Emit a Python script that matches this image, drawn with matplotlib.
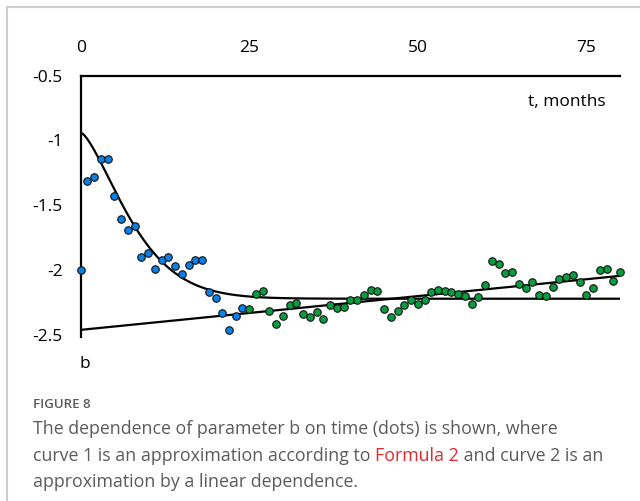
import numpy as np
import matplotlib
matplotlib.use("Agg")
import matplotlib.pyplot as plt
from matplotlib.lines import Line2D

plt.rcParams['font.family'] = ['Open Sans', 'DejaVu Sans']

# Monthly values of parameter b
t_blue = list(range(0, 25))
b_blue = [-2.00, -1.315, -1.28, -1.14, -1.14, -1.43, -1.605, -1.69, -1.66,
          -1.90, -1.865, -1.99, -1.92, -1.90, -1.97, -2.03, -1.96, -1.925,
          -1.925, -2.17, -2.215, -2.33, -2.46, -2.35, -2.295]

t_green = list(range(25, 81))
b_green = [-2.30, -2.18, -2.16, -2.315, -2.415, -2.35, -2.27, -2.256, -2.34,
           -2.36, -2.32, -2.38, -2.27, -2.29, -2.28, -2.23, -2.23, -2.19,
           -2.15, -2.16, -2.30, -2.36, -2.315, -2.27, -2.23, -2.26, -2.23,
           -2.17, -2.15, -2.16, -2.17, -2.18, -2.20, -2.26, -2.205, -2.115,
           -1.93, -1.955, -2.02, -2.015, -2.11, -2.14, -2.095, -2.19, -2.20,
           -2.13, -2.067, -2.055, -2.04, -2.09, -2.19, -2.14, -2.00, -1.99,
           -2.08, -2.015]

x_ticks = [0, 25, 50, 75]
x_tick_labels = ["0", "25", "50", "75"]
y_ticks = [-0.5, -1.0, -1.5, -2.0, -2.5]
y_tick_labels = ["-0.5", "-1", "-1.5", "-2", "-2.5"]

# Curve 1 (relaxation to a plateau) and curve 2 (linear trend) parameters
b_start, b_plateau, tau, power = -0.94, -2.22, 9.1, 1.45
lin_intercept, lin_slope = -2.46, 0.0052

W, H = 640, 501
fig = plt.figure(figsize=(W / 100, H / 100), dpi=100)

def fx(px):
    return px / W

def fy(py):
    return 1 - py / H

ax_left, ax_right, ax_top, ax_bottom = 80.7, 620.0, 75.5, 337.0
ax = fig.add_axes([fx(ax_left), fy(ax_bottom), (ax_right - ax_left) / W,
                   (ax_bottom - ax_top) / H])
ax.set_xlim(0, 80)
ax.set_ylim(-2.515, -0.5)

t_fit = np.linspace(0, 80, 400)
curve1 = b_plateau + (b_start - b_plateau) * np.exp(-(t_fit / tau) ** power)
curve2 = lin_intercept + lin_slope * t_fit
ax.plot(t_fit, curve1, color="black", lw=1.6, zorder=2, solid_capstyle="butt")
ax.plot(t_fit, curve2, color="black", lw=1.6, zorder=2, solid_capstyle="butt")

ax.plot(t_blue, b_blue, "o", ms=5.4, mfc="#0a7fe6", mec="#111111", mew=0.8,
        zorder=3, clip_on=False)
ax.plot(t_green, b_green, "o", ms=5.4, mfc="#0b9c40", mec="#111111", mew=0.8,
        zorder=3, clip_on=False)

for side in ("right", "bottom"):
    ax.spines[side].set_visible(False)
for side in ("top", "left"):
    ax.spines[side].set_linewidth(1.6)
    ax.spines[side].set_color("black")

ax.xaxis.tick_top()
ax.set_xticks(x_ticks)
ax.set_xticklabels(x_tick_labels)
ax.set_yticks(y_ticks)
ax.set_yticklabels(y_tick_labels)
ax.tick_params(axis="x", length=0, pad=14, labelsize=12.5, labelcolor="black")
ax.tick_params(axis="y", length=0, pad=13, labelsize=12.5, labelcolor="black")

fig.text(fx(567), fy(102), "t, months", ha="center", va="center", fontsize=12.5)
fig.text(fx(85), fy(364), "b", ha="center", va="center", fontsize=12.5)

# Light frame around the figure panel
fig.add_artist(Line2D([fx(6.5), fx(6.5)], [fy(7), 0], color="#cfcfcf", lw=1.5,
                      transform=fig.transFigure))
fig.add_artist(Line2D([fx(6.5), 1], [fy(7), fy(7)], color="#cfcfcf", lw=1.5,
                      transform=fig.transFigure))

# Caption
cap_color = "#5a5a5a"
cap_x = 33
fig.text(fx(cap_x), fy(405), "FIGURE 8", ha="left", va="center", fontsize=9.5,
         color=cap_color, fontweight="semibold")
cap_fs = 12.8
fig.text(fx(cap_x), fy(434), "The dependence of parameter b on time (dots) is shown, where",
         ha="left", va="baseline", fontsize=cap_fs, color=cap_color)
t1 = fig.text(fx(cap_x), fy(461), "curve 1 is an approximation according to ",
              ha="left", va="baseline", fontsize=cap_fs, color=cap_color)
t2 = fig.text(0, fy(461), "Formula 2", fontsize=cap_fs, color="#e0282e",
              ha="left", va="baseline")
fig.canvas.draw()
r = fig.canvas.get_renderer()
bb1 = t1.get_window_extent(r)
t2.set_position((bb1.x1 / W, fy(461)))
fig.canvas.draw()
bb2 = t2.get_window_extent(r)
fig.text(bb2.x1 / W, fy(461), " and curve 2 is an",
         ha="left", va="baseline", fontsize=cap_fs, color=cap_color)
fig.text(fx(cap_x), fy(487), "approximation by a linear dependence.",
         ha="left", va="baseline", fontsize=cap_fs, color=cap_color)

fig.savefig("out.png", dpi=100)
